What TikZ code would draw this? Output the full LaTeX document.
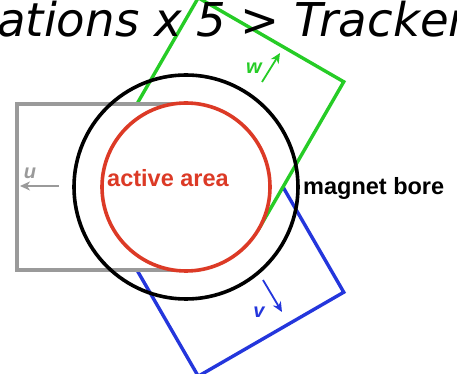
\documentclass[tikz,border=0pt]{standalone}
\usepackage{fontspec}
\setsansfont{Liberation Sans}
\newfontfamily\slidefont{DejaVu Sans}
\usetikzlibrary{arrows.meta}
\definecolor{planeu}{HTML}{9A9A9A}
\definecolor{planev}{HTML}{2436DC}
\definecolor{planew}{HTML}{26CC26}
\definecolor{activered}{HTML}{DC3A26}

\begin{document}
\begin{tikzpicture}[
  x=1pt, y=1pt,
  plane/.style={line width=3.4pt, fill=white},
  bore/.style={line width=3.6pt},
  dir/.style={-{Stealth[length=10pt,width=9pt,inset=3pt]}, line width=1.8pt},
  axis/.style={font=\sffamily\bfseries\itshape\fontsize{20}{20}\selectfont, inner sep=0pt},
  lbl/.style={font=\sffamily\bfseries\fontsize{23.5}{24}\selectfont, inner sep=0pt}
]
  \clip (-186,-187) rectangle (271,187);
  \coordinate (c) at (0,0);

  \draw[plane, draw=planev, rotate=120] (-170,-84) rectangle (0,84);
  \draw[plane, draw=planew, rotate=-120] (-170,-84) rectangle (0,84);
  \draw[plane, draw=planeu] (-169,-83) rectangle (0,83);
  \draw[bore, draw=activered, fill=white] (c) circle[radius=84];
  \draw[bore, draw=black] (c) circle[radius=112];

  \node[anchor=base west, inner sep=0pt, font=\slidefont\itshape\fontsize{46.6}{50}\selectfont] (title) at (-189,150) {ations x 5 > Tracker};
  \node[lbl, anchor=base, text=activered] (active) at (-18,0) {active area};
  \node[lbl, anchor=base west] (magnet) at (117,-8) {magnet bore};

  \coordinate (u0) at (-127,1);
  \coordinate (u1) at (-166,1);
  \coordinate (w0) at (76,105);
  \coordinate (w1) at (94,134);
  \coordinate (v0) at (77,-93);
  \coordinate (v1) at (96,-125);
  \draw[dir, planeu] (u0) -- (u1);
  \draw[dir, planew] (w0) -- (w1);
  \draw[dir, planev] (v0) -- (v1);
  \node[axis, text=planeu] (ulbl) at (-156,14) {u};
  \node[axis, text=planew] (wlbl) at (68,119) {w};
  \node[axis, text=planev] (vlbl) at (73,-125) {v};
\end{tikzpicture}
\end{document}
